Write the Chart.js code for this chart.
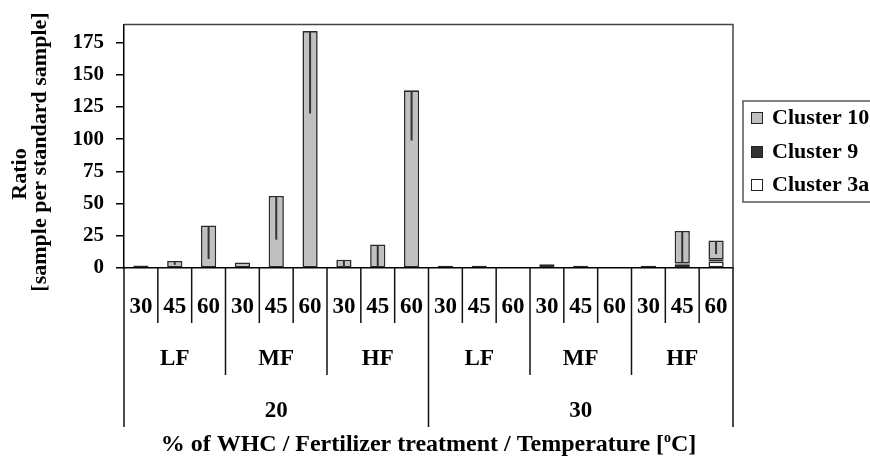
<!DOCTYPE html>
<html><head><meta charset="utf-8">
<script src="https://cdn.jsdelivr.net/npm/chart.js@4.4.0/dist/chart.umd.min.js"></script>
<style>html,body{margin:0;padding:0;background:#fff}#wrap{width:870px;height:458px;position:relative;overflow:hidden}</style>
</head><body><div id="wrap"><canvas id="c" width="870" height="458"></canvas></div>
<script>
const temps = ['30','45','60'];
const ferts = ['LF','MF','HF'];
const whcLevels = ['20','30'];
const seriesNames = ['Cluster 3a','Cluster 9','Cluster 10'];
const cluster3a = [0,0,0,0,0,0,0,0,0, 0,0,0,0,0,0,0,3.0,5.0];
const cluster9  = [0,0,0,0,0,0,0,0,0, 0,0,0,0,0,0,0,0.4,1.7];
const cluster10 = [2.0,5.5,33,4.3,56,184,6.5,18.3,138, 1.8,1.8,0,3.0,1.8,0,1.8,25.4,14.6];
const cluster10Err = [0,3,26,0,34,64,6,17.5,39, 0,0,0,1.5,0,0,0,25,10.5];
const yTicks = [0,25,50,75,100,125,150,175];
const yTitle = ['Ratio','[sample per standard sample]'];
const xTitle = '% of WHC / Fertilizer treatment / Temperature [';

const labels = [];
whcLevels.forEach(w => ferts.forEach(f => temps.forEach(t => labels.push(w + '/' + f + '/' + t))));

const SERIF = '"Liberation Serif", "Times New Roman", serif';
const fnt = s => 'bold ' + s + 'px ' + SERIF;

const errPlugin = {
  id: 'errbars',
  afterDatasetsDraw(chart) {
    const ctx = chart.ctx, ys = chart.scales.y;
    const meta = chart.getDatasetMeta(2);
    ctx.save();
    ctx.strokeStyle = '#333'; ctx.lineWidth = 2;
    meta.data.forEach((el, i) => {
      const err = cluster10Err[i];
      if (!err) return;
      const total = cluster3a[i] + cluster9[i] + cluster10[i];
      const y0 = ys.getPixelForValue(total);
      const y1 = ys.getPixelForValue(total - err);
      ctx.beginPath(); ctx.moveTo(el.x, y0 + 1); ctx.lineTo(el.x, y1); ctx.stroke();
    });
    ctx.restore();
  }
};

const decorPlugin = {
  id: 'decor',
  afterDraw(chart) {
    const ctx = chart.ctx, a = chart.chartArea, xs = chart.scales.x;
    ctx.save();
    ctx.strokeStyle = '#444'; ctx.lineWidth = 1.5;
    ctx.beginPath(); ctx.moveTo(a.left, a.top); ctx.lineTo(a.right, a.top); ctx.lineTo(a.right, a.bottom); ctx.stroke();
    const step = xs.getPixelForValue(1) - xs.getPixelForValue(0);
    const x0 = xs.getPixelForValue(0) - step / 2;
    ctx.strokeStyle = '#111'; ctx.lineWidth = 1.5;
    for (let b = 0; b <= labels.length; b++) {
      const xb = x0 + b * step;
      const end = (b % 9 === 0) ? 427 : (b % 3 === 0 ? 375 : 323);
      ctx.beginPath(); ctx.moveTo(xb, a.bottom); ctx.lineTo(xb, end); ctx.stroke();
    }
    ctx.fillStyle = '#000'; ctx.textAlign = 'center'; ctx.textBaseline = 'middle';
    ctx.font = fnt(23);
    labels.forEach((l, i) => {
      ctx.fillText(temps[i % 3], xs.getPixelForValue(i), 307);
    });
    for (let g = 0; g < 6; g++) {
      const cx = (xs.getPixelForValue(g * 3) + xs.getPixelForValue(g * 3 + 2)) / 2;
      ctx.fillText(ferts[g % 3], cx, 359);
    }
    for (let w = 0; w < 2; w++) {
      const cx = (xs.getPixelForValue(w * 9) + xs.getPixelForValue(w * 9 + 8)) / 2;
      ctx.fillText(whcLevels[w], cx, 411);
    }
    ctx.font = fnt(24);
    const w1 = ctx.measureText(xTitle).width;
    ctx.font = fnt(14);
    const w2 = ctx.measureText('o').width;
    ctx.font = fnt(24);
    const w3 = ctx.measureText('C]').width;
    const total = w1 + w2 + w3;
    let sx = (a.left + a.right) / 2 - total / 2;
    ctx.textAlign = 'left';
    ctx.fillText(xTitle, sx, 445);
    ctx.font = fnt(14);
    ctx.fillText('o', sx + w1, 438);
    ctx.font = fnt(24);
    ctx.fillText('C]', sx + w1 + w2, 445);
    ctx.font = fnt(22);
    ctx.textAlign = 'center';
    ctx.save(); ctx.translate(20, 174); ctx.rotate(-Math.PI / 2); ctx.fillText(yTitle[0], 0, 0); ctx.restore();
    ctx.save(); ctx.translate(40, 152); ctx.rotate(-Math.PI / 2); ctx.fillText(yTitle[1], 0, 0); ctx.restore();
    ctx.strokeStyle = '#555'; ctx.lineWidth = 1.5;
    ctx.strokeRect(743, 101, 160, 101);
    const order = [2, 1, 0], ly = [118, 152, 185];
    ctx.font = fnt(22); ctx.textAlign = 'left'; ctx.textBaseline = 'middle';
    order.forEach((di, k) => {
      const ds = chart.data.datasets[di];
      ctx.fillStyle = ds.backgroundColor;
      ctx.fillRect(751, ly[k] - 6, 12, 12);
      ctx.strokeStyle = '#222'; ctx.lineWidth = 1;
      ctx.strokeRect(751.5, ly[k] - 5.5, 11, 11);
      ctx.fillStyle = '#000';
      ctx.fillText(ds.label, 772, ly[k]);
    });
    ctx.restore();
  }
};

const bw = c => (c.raw ? 1.6 : 0);
new Chart(document.getElementById('c'), {
  type: 'bar',
  data: {
    labels: labels,
    datasets: [
      { label: seriesNames[0], data: cluster3a, backgroundColor: '#ffffff', borderColor: '#2a2a2a', borderWidth: bw, borderSkipped: false },
      { label: seriesNames[1], data: cluster9, backgroundColor: '#333333', borderColor: '#2a2a2a', borderWidth: bw, borderSkipped: false },
      { label: seriesNames[2], data: cluster10, backgroundColor: '#c0c0c0', borderColor: '#2a2a2a', borderWidth: bw, borderSkipped: false }
    ]
  },
  options: {
    responsive: false,
    animation: false,
    events: [],
    layout: { padding: { top: 15, right: 137, left: 0, bottom: 0 } },
    datasets: { bar: { barPercentage: 0.45, categoryPercentage: 1 } },
    plugins: { legend: { display: false }, tooltip: { enabled: false } },
    scales: {
      x: {
        stacked: true,
        grid: { display: false },
        border: { display: true, color: '#000', width: 1.5 },
        ticks: { display: false },
        afterFit: s => { s.height = 190; }
      },
      y: {
        stacked: true,
        min: 0, max: 189,
        afterBuildTicks: s => { s.ticks = yTicks.map(v => ({ value: v })); },
        grid: { drawOnChartArea: false, drawTicks: true, tickLength: 8, color: '#000', lineWidth: 1.5 },
        border: { display: true, color: '#000', width: 1.5 },
        ticks: { color: '#000', font: { family: SERIF, weight: 'bold', size: 21 }, padding: 12 },
        afterFit: s => { s.width = 124; }
      }
    }
  },
  plugins: [errPlugin, decorPlugin]
});
</script></body></html>
